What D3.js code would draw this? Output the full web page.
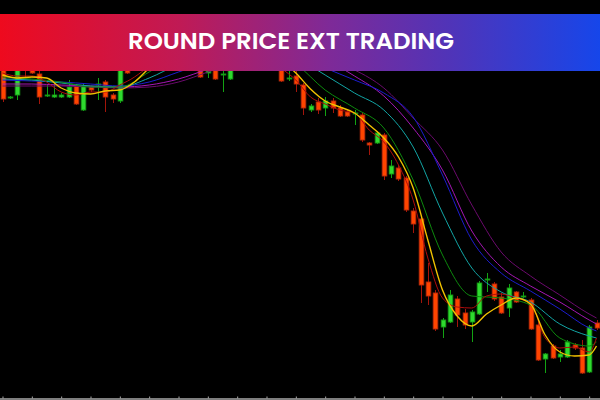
<!DOCTYPE html>
<html><head><meta charset="utf-8">
<script src="https://cdn.jsdelivr.net/npm/d3@7"></script>
<style>html,body{margin:0;padding:0;background:#000;}svg{display:block;}</style>
</head><body>
<svg id="chart" width="600" height="400"></svg>
<script>
// ---- data ----
const title = "ROUND PRICE EXT TRADING";
const opens = [1.1134,1.1102,1.1105,1.1140,1.1134,1.1126,1.1104,1.1103,1.1103,1.1103,1.1114,1.1090,1.1113,1.1115,1.1118,1.1105,1.1099,1.1142,1.1132,1.1148,1.1160,1.1152,1.1168,1.1158,1.1170,1.1162,1.1152,1.1138,1.1127,1.1138,1.1125,1.1121,1.1140,1.1152,1.1144,1.1156,1.1148,1.1138,1.1144,1.1121,1.1124,1.1115,1.1090,1.1098,1.1092,1.1099,1.1092,1.1088,1.1086,1.1085,1.1057,1.1057,1.1065,1.1026,1.1032,1.1022,1.0989,1.0981,1.0918,1.0907,1.0873,1.0878,1.0901,1.0887,1.0878,1.0886,1.0920,1.0916,1.0903,1.0892,1.0908,1.0903,1.0900,1.0875,1.0841,1.0854,1.0843,1.0843,1.0855,1.0852,1.0828,1.0877];
const highs = [1.1138,1.1104,1.1140,1.1144,1.1138,1.1130,1.1115,1.1118,1.1107,1.1120,1.1116,1.1117,1.1114,1.1122,1.1120,1.1107,1.1136,1.1146,1.1154,1.1164,1.1166,1.1172,1.1174,1.1176,1.1175,1.1166,1.1156,1.1142,1.1134,1.1142,1.1134,1.1144,1.1156,1.1158,1.1160,1.1160,1.1152,1.1150,1.1148,1.1132,1.1130,1.1117,1.1096,1.1102,1.1103,1.1102,1.1095,1.1090,1.1090,1.1087,1.1058,1.1069,1.1067,1.1040,1.1035,1.1024,1.0992,1.0983,1.0937,1.0910,1.0882,1.0910,1.0904,1.0891,1.0890,1.0919,1.0927,1.0918,1.0907,1.0916,1.0909,1.0908,1.0902,1.0878,1.0847,1.0856,1.0850,1.0860,1.0857,1.0860,1.0875,1.0880];
const lows = [1.1098,1.1101,1.1100,1.1123,1.1126,1.1096,1.1103,1.1102,1.1102,1.1102,1.1095,1.1089,1.1108,1.1100,1.1088,1.1097,1.1097,1.1126,1.1131,1.1144,1.1148,1.1150,1.1154,1.1156,1.1158,1.1148,1.1137,1.1122,1.1122,1.1120,1.1108,1.1120,1.1138,1.1140,1.1142,1.1144,1.1136,1.1134,1.1118,1.1119,1.1108,1.1085,1.1088,1.1086,1.1084,1.1087,1.1083,1.1083,1.1075,1.1058,1.1045,1.1056,1.1020,1.1022,1.1019,1.0988,1.0967,1.0897,1.0895,1.0869,1.0862,1.0877,1.0873,1.0871,1.0858,1.0885,1.0908,1.0899,1.0886,1.0883,1.0897,1.0902,1.0870,1.0839,1.0827,1.0841,1.0838,1.0842,1.0850,1.0826,1.0827,1.0870];
const closes = [1.1101,1.1103,1.1136,1.1130,1.1127,1.1103,1.1105,1.1105,1.1105,1.1113,1.1096,1.1114,1.1110,1.1116,1.1103,1.1101,1.1132,1.1127,1.1150,1.1160,1.1152,1.1168,1.1158,1.1170,1.1162,1.1152,1.1140,1.1123,1.1129,1.1121,1.1126,1.1140,1.1152,1.1144,1.1156,1.1148,1.1140,1.1144,1.1119,1.1122,1.1116,1.1092,1.1094,1.1090,1.1099,1.1092,1.1084,1.1084,1.1087,1.1060,1.1055,1.1067,1.1024,1.1034,1.1021,1.0990,1.0976,1.0915,1.0904,1.0871,1.0880,1.0905,1.0885,1.0875,1.0888,1.0917,1.0921,1.0901,1.0887,1.0912,1.0898,1.0904,1.0871,1.0840,1.0846,1.0842,1.0846,1.0858,1.0852,1.0827,1.0873,1.0872];

// moving-average lines, sampled at candle indices
const fastIdx = [0,2,4,6,8,10,12,14,16,18,20,22,24,26,28,30,32,34,36,38,40,42,44,46,48,50,52,54,56,58,60,62,64,66,68,70,72,74,76,78,80,81];
const slowIdx = [0,4,8,12,16,20,24,28,32,36,40,44,48,52,56,60,64,68,72,76,80,81];
const maYellow = [1.1125,1.1122,1.1123,1.1122,1.1112,1.1107,1.1106,1.1109,1.1110,1.1118,1.1132,1.1145,1.1155,1.1162,1.1165,1.1164,1.1160,1.1155,1.1148,1.1140,1.1127,1.1111,1.1099,1.1093,1.1087,1.1075,1.1062,1.1043,1.1012,1.0960,1.0910,1.0884,1.0874,1.0886,1.0895,1.0902,1.0896,1.0865,1.0848,1.0844,1.0845,1.0854];
const maRed = [1.1127,1.1124,1.1124,1.1118,1.1108,1.1105,1.1108,1.1108,1.1115,1.1123,1.1135,1.1155,1.1162,1.1160,1.1155,1.1150,1.1148,1.1150,1.1145,1.1132,1.1120,1.1103,1.1096,1.1090,1.1087,1.1070,1.1058,1.1035,1.1000,1.0942,1.0902,1.0893,1.0892,1.0904,1.0906,1.0902,1.0897,1.0862,1.0852,1.0853,1.0848,1.0862];
const maGreen = [1.1123,1.1121,1.1118,1.1113,1.1113,1.1128,1.1145,1.1155,1.1156,1.1150,1.1136,1.1110,1.1092,1.1072,1.1020,1.0945,1.0904,1.0902,1.0895,1.0862,1.0854,1.0858];
const maTeal = [1.1121,1.1120,1.1117,1.1114,1.1113,1.1122,1.1136,1.1148,1.1154,1.1150,1.1142,1.1125,1.1107,1.1090,1.1053,1.0987,1.0932,1.0908,1.0898,1.0876,1.0864,1.0862];
const maBlue = [1.1120,1.1119,1.1118,1.1116,1.1114,1.1118,1.1128,1.1138,1.1148,1.1150,1.1145,1.1132,1.1120,1.1107,1.1083,1.1025,1.0960,1.0927,1.0909,1.0891,1.0872,1.0869];
const maMagenta = [1.1116,1.1116,1.1115,1.1114,1.1113,1.1115,1.1121,1.1131,1.1142,1.1148,1.1146,1.1140,1.1124,1.1104,1.1072,1.1030,1.0969,1.0933,1.0914,1.0898,1.0880,1.0876];
const maPurple = [1.1114,1.1114,1.1114,1.1113,1.1112,1.1113,1.1118,1.1128,1.1138,1.1144,1.1144,1.1140,1.1130,1.1112,1.1082,1.1050,1.0995,1.0948,1.0924,1.0905,1.0886,1.0882];
const tickEvery = 4;

// ---- drawing ----
const W = 600, H = 400;
const svg = d3.select("#chart");
svg.append("rect").attr("width", W).attr("height", H).attr("fill", "#000");

const x = d3.scaleLinear().domain([0, closes.length - 1]).range([2.5, 596.5]);
const y = d3.scaleLinear().domain([1.1200, 1.0800]).range([0, 400]);
const bodyW = 4.6;

// axis at bottom
const tickVals = d3.range(0, closes.length, tickEvery);
const axis = d3.axisBottom(x).tickValues(tickVals).tickFormat("").tickSizeInner(-2).tickSizeOuter(0);
const gAx = svg.append("g").attr("transform", "translate(0,398.5)").call(axis);
gAx.select(".domain").attr("d", "M0,0.5H600").attr("stroke", "#a8a8a8").attr("stroke-width", 1.5);
gAx.selectAll(".tick line").attr("stroke", "#a8a8a8");

// candles
const candles = d3.range(closes.length).map(i => ({i, o: opens[i], h: highs[i], l: lows[i], c: closes[i]}));
const gC = svg.append("g");
const up = d => d.c >= d.o;
gC.selectAll("line.wick").data(candles).join("line")
  .attr("class", "wick")
  .attr("x1", d => Math.round(x(d.i)) + 0.5).attr("x2", d => Math.round(x(d.i)) + 0.5)
  .attr("y1", d => y(d.h)).attr("y2", d => y(d.l))
  .attr("stroke", d => up(d) ? "#13a313" : "#a3150a").attr("stroke-width", 1);
gC.selectAll("rect.body").data(candles).join("rect")
  .attr("class", "body")
  .attr("x", d => Math.round(x(d.i)) + 0.5 - bodyW / 2)
  .attr("y", d => y(Math.max(d.o, d.c)))
  .attr("width", bodyW)
  .attr("height", d => Math.max(1, Math.abs(y(d.o) - y(d.c))))
  .attr("fill", d => up(d) ? "#2fd92f" : "#ff4500")
  .attr("stroke", d => up(d) ? "#149c14" : "#b8280a")
  .attr("stroke-width", 0.9);

// moving averages
const mas = [
  {idx: slowIdx, vals: maPurple, color: "#6c0a6e", w: 1},
  {idx: slowIdx, vals: maMagenta, color: "#a516b5", w: 1},
  {idx: slowIdx, vals: maBlue, color: "#1c1ccf", w: 1},
  {idx: slowIdx, vals: maTeal, color: "#12a5a5", w: 1},
  {idx: slowIdx, vals: maGreen, color: "#0d8a0d", w: 1},
  {idx: fastIdx, vals: maRed, color: "#b00c0c", w: 1},
  {idx: fastIdx, vals: maYellow, color: "#f2c200", w: 1.4}
];
const line = d3.line().x(d => x(d[0])).y(d => y(d[1])).curve(d3.curveMonotoneX);
mas.forEach(m => {
  svg.append("path")
    .datum(m.idx.map((k, j) => [k, m.vals[j]]))
    .attr("d", line)
    .attr("fill", "none")
    .attr("stroke", m.color)
    .attr("stroke-width", m.w);
});

// banner
const defs = svg.append("defs");
const grad = defs.append("linearGradient").attr("id", "bannerGrad").attr("x1", "0%").attr("x2", "100%");
[["0%", "#ee0a1e"], ["30%", "#c01a55"], ["55%", "#7e2a98"], ["75%", "#5034b8"], ["100%", "#1646ea"]]
  .forEach(([o, c]) => grad.append("stop").attr("offset", o).attr("stop-color", c));
svg.append("rect").attr("x", 0).attr("y", 0).attr("width", W).attr("height", 14).attr("fill", "#000");
svg.append("rect").attr("x", 0).attr("y", 14).attr("width", W).attr("height", 57).attr("fill", "url(#bannerGrad)");
svg.append("text")
  .attr("x", 128).attr("y", 48.5)
  .attr("fill", "#fff")
  .attr("font-family", "Poppins, Inter, 'Open Sans', sans-serif")
  .attr("font-weight", 600)
  .attr("font-size", 23)
  .attr("textLength", 326)
  .attr("lengthAdjust", "spacingAndGlyphs")
  .text(title);
</script>
</body></html>
